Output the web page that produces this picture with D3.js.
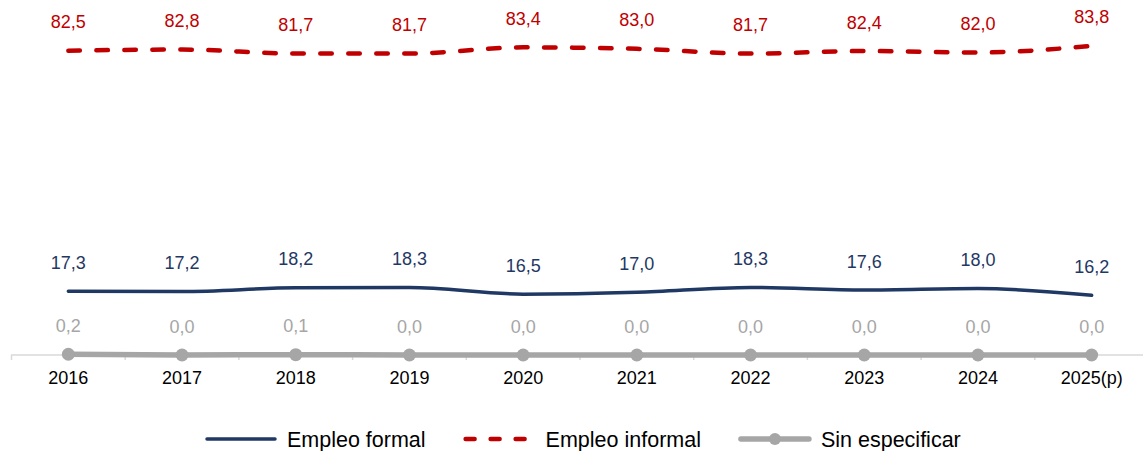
<!DOCTYPE html>
<html>
<head>
<meta charset="utf-8">
<script src="https://cdn.jsdelivr.net/npm/d3@7"></script>
<style>
  body { margin: 0; background: #fff; }
  svg { display: block; font-family: Arial, "Liberation Sans", sans-serif; }
</style>
</head>
<body>
<svg id="chart"></svg>
<script>
// Data
const years = ['2016', '2017', '2018', '2019', '2020', '2021', '2022', '2023', '2024', '2025(p)'];
const empleoFormal = [17.3, 17.2, 18.2, 18.3, 16.5, 17.0, 18.3, 17.6, 18.0, 16.2];
const empleoInformal = [82.5, 82.8, 81.7, 81.7, 83.4, 83.0, 81.7, 82.4, 82.0, 83.8];
const sinEspecificar = [0.2, 0.0, 0.1, 0.0, 0.0, 0.0, 0.0, 0.0, 0.0, 0.0];

const series = [
  {name: 'Empleo formal', values: empleoFormal, color: '#1F3864', width: 3.5, dash: null, marker: false},
  {name: 'Empleo informal', values: empleoInformal, color: '#C00000', width: 4.5, dash: '11.5,16.5', marker: false},
  {name: 'Sin especificar', values: sinEspecificar, color: '#A6A6A6', width: 5.5, dash: null, marker: true}
];

const width = 1143, height = 451;
const svg = d3.select('#chart')
    .attr('width', width)
    .attr('height', height);

const xScale = d3.scaleBand()
    .domain(years)
    .range([11.5, 1148.5]);

const yScale = d3.scaleLinear()
    .domain([0, 90])
    .range([355, 23]);

const fmt = v => d3.format('.1f')(v).replace('.', ',');
const cx = d => xScale(d) + xScale.bandwidth() / 2;

// Axis line with ticks between categories
const axisG = svg.append('g')
    .attr('transform', `translate(0,355)`);

axisG.append('line')
    .attr('x1', 11).attr('x2', width)
    .attr('stroke', '#D9D9D9')
    .attr('stroke-width', 1.5);

axisG.selectAll('.tick-mark')
    .data(years)
    .join('line')
    .attr('class', 'tick-mark')
    .attr('x1', d => xScale(d)).attr('x2', d => xScale(d))
    .attr('y1', 0).attr('y2', 5)
    .attr('stroke', '#D9D9D9')
    .attr('stroke-width', 1.5);

axisG.selectAll('.tick-label')
    .data(years)
    .join('text')
    .attr('class', 'tick-label')
    .attr('x', cx)
    .attr('y', 28.5)
    .attr('text-anchor', 'middle')
    .attr('font-size', 18)
    .attr('fill', '#000')
    .text(d => d);

const line = d3.line()
    .x((d, i) => cx(years[i]))
    .y(d => yScale(d))
    .curve(d3.curveMonotoneX);

// Lines, markers and labels
series.forEach(s => {
  const g = svg.append('g');

  g.append('path')
      .datum(s.values)
      .attr('d', line)
      .attr('fill', 'none')
      .attr('stroke', s.color)
      .attr('stroke-width', s.width)
      .attr('stroke-linecap', 'round')
      .attr('stroke-dasharray', s.dash);

  if (s.marker) {
    g.selectAll('circle')
        .data(s.values)
        .join('circle')
        .attr('cx', (d, i) => cx(years[i]))
        .attr('cy', d => yScale(d))
        .attr('r', 6.5)
        .attr('fill', s.color);
  }

  g.selectAll('text')
      .data(s.values)
      .join('text')
      .attr('x', (d, i) => cx(years[i]))
      .attr('y', d => yScale(d) - 22.5)
      .attr('text-anchor', 'middle')
      .attr('font-size', 18)
      .attr('fill', s.color)
      .text(fmt);
});

// Legend
const legend = svg.append('g')
    .attr('transform', 'translate(205,439)');

let lx = 0;
series.forEach(s => {
  const item = legend.append('g').attr('transform', `translate(${lx},0)`);
  item.append('line')
      .attr('x1', 2).attr('x2', 70)
      .attr('stroke', s.color)
      .attr('stroke-width', s.width)
      .attr('stroke-linecap', 'round')
      .attr('stroke-dasharray', s.dash ? '9,16' : null);
  if (s.marker) {
    item.append('circle')
        .attr('cx', 36).attr('r', 6)
        .attr('fill', s.color);
  }
  const t = item.append('text')
      .attr('x', 82)
      .attr('y', 7.5)
      .attr('font-size', 21.5)
      .attr('fill', '#000')
      .text(s.name);
  lx += 82 + t.node().getComputedTextLength() + 38;
});
</script>
</body>
</html>
